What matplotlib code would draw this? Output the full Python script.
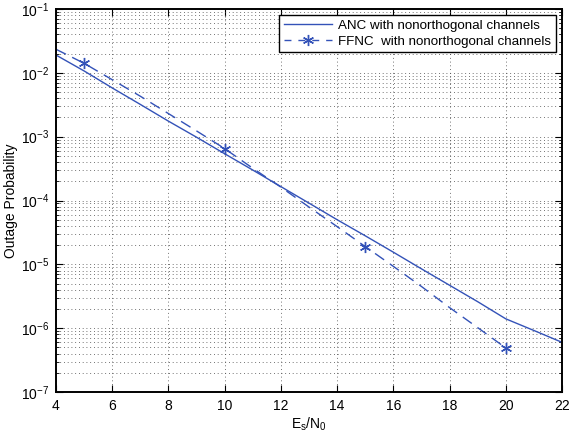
import matplotlib
matplotlib.use("Agg")
import matplotlib.pyplot as plt
import numpy as np
from matplotlib.lines import Line2D

plt.rcParams['font.family'] = ['Liberation Sans', 'DejaVu Sans']
plt.rcParams['mathtext.fontset'] = 'custom'
plt.rcParams['mathtext.rm'] = 'Liberation Sans'
plt.rcParams['mathtext.it'] = 'Liberation Sans'

snr_anc = [4, 5, 6, 7, 8, 9, 10, 11, 12, 13, 14, 15, 16, 17, 18, 19, 20, 21, 22]
anc = [1.9e-2, 1.07e-2, 5.8e-3, 3.2e-3, 1.75e-3, 9.8e-4, 5.4e-4, 3.0e-4, 1.65e-4,
       9.1e-5, 5.0e-5, 2.8e-5, 1.55e-5, 8.5e-6, 4.7e-6, 2.6e-6, 1.4e-6, 9.2e-7, 6.0e-7]
snr_ffnc = [4, 5, 6, 7, 8, 9, 10, 11, 12, 13, 14, 15, 16, 17, 18, 19, 20]
ffnc = [2.34e-2, 1.41e-2, 7.8e-3, 4.3e-3, 2.3e-3, 1.23e-3, 6.5e-4, 3.2e-4, 1.62e-4,
        7.9e-5, 3.9e-5, 1.9e-5, 9.3e-6, 4.5e-6, 2.1e-6, 1.02e-6, 4.9e-7]
marker_snr = [5, 10, 15, 20]
xticks = [4, 6, 8, 10, 12, 14, 16, 18, 20, 22]
labels = ['ANC with nonorthogonal channels', 'FFNC  with nonorthogonal channels']

color = '#3352b8'
asterisk = (6, 2, 0)

fig = plt.figure(figsize=(5.69, 4.38), dpi=100)
ax = fig.add_axes([56/569, 1 - 392/438, (562-56)/569, (392-9)/438])

ax.semilogy(snr_anc, anc, '-', color=color, lw=1.0)
ax.semilogy(snr_ffnc, ffnc, '--', color=color, lw=1.0, dashes=(8, 5))
mk_idx = [snr_ffnc.index(s) for s in marker_snr]
ax.semilogy([snr_ffnc[i] for i in mk_idx], [ffnc[i] for i in mk_idx],
            marker=asterisk, color=color, ms=8, mew=1.0, ls='none')

ax.set_xlim(4, 22)
ax.set_ylim(1e-7, 1e-1)
ax.set_xticks(xticks)
gstyle = dict(ls=(0, (1, 3.5)), color='#444444', lw=0.6)
ax.grid(True, which='major', **gstyle)
ax.grid(True, which='minor', axis='y', **gstyle)
ax.tick_params(which='both', direction='in', top=True, right=True, labelsize=10)
ax.tick_params(which='major', length=5, pad=5)
ax.tick_params(which='minor', length=2.5)
for s in ax.spines.values():
    s.set_linewidth(1.4)

ax.set_xlabel(r'E$_s$/N$_0$', fontsize=10, labelpad=2)
ax.set_ylabel('Outage Probability', fontsize=10, labelpad=2)

h1 = Line2D([], [], color=color, lw=1.0, ls='-')
h2 = Line2D([], [], color=color, lw=1.0, ls='--', dashes=(5, 5),
            marker=asterisk, ms=8, mew=1.0)
leg = ax.legend([h1, h2], labels, loc='upper right', fontsize=9.6, frameon=True,
                fancybox=False, edgecolor='black', framealpha=1, borderpad=0.35,
                handlelength=3.6, handletextpad=0.5, labelspacing=0.25,
                borderaxespad=0.45)
leg.get_frame().set_linewidth(1.0)

fig.savefig('out.png', dpi=100)
